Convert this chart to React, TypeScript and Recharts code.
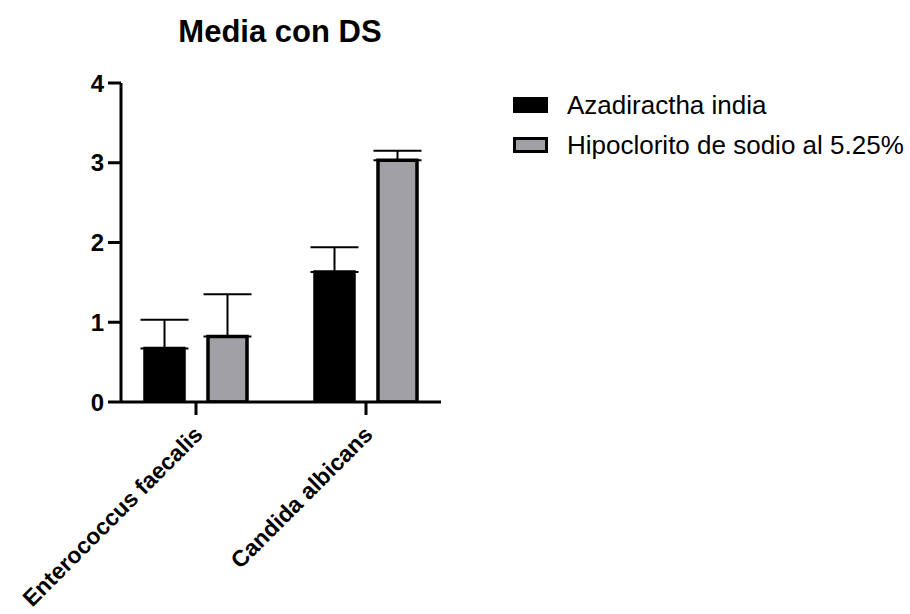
import React from 'react';
import { BarChart, Bar, XAxis, YAxis, ErrorBar, Legend } from 'recharts';

const categories = ['Enterococcus faecalis', 'Candida albicans'];
const seriesNames = ['Azadiractha india', 'Hipoclorito de sodio al 5.25%'];
const azadirachtaMean = [0.67, 1.63];
const azadirachtaSD = [0.36, 0.31];
const hipocloritoMean = [0.82, 3.03];
const hipocloritoSD = [0.53, 0.12];
const yTicks = [0, 1, 2, 3, 4];
const title = 'Media con DS';

const FONT = '"Liberation Sans", Arial, Helvetica, sans-serif';
const COLORS = ['#000000', '#a1a1a5'];

const data = categories.map((c, i) => ({
  name: c,
  a: azadirachtaMean[i],
  aErr: [0, azadirachtaSD[i]],
  h: hipocloritoMean[i],
  hErr: [0, hipocloritoSD[i]],
}));

const XTick = (props: any) => {
  const { x, y, payload } = props;
  return (
    <g transform={`translate(${x + 8},${y + 19})`}>
      <text
        x={0}
        y={0}
        transform="rotate(-45)"
        textAnchor="end"
        fill="#000"
        fontSize={23}
        fontWeight={700}
        fontFamily={FONT}
      >
        {payload.value}
      </text>
    </g>
  );
};

const YTick = (props: any) => {
  const { x, y, payload } = props;
  return (
    <text
      x={x}
      y={y}
      dy="0.36em"
      textAnchor="end"
      fill="#000"
      fontSize={24}
      fontWeight={700}
      fontFamily={FONT}
    >
      {payload.value}
    </text>
  );
};

const renderLegend = () => (
  <div style={{ fontFamily: FONT }}>
    {seriesNames.map((n, i) => (
      <div key={n} style={{ display: 'flex', alignItems: 'center', height: 40 }}>
        <div
          style={{
            width: 35,
            height: 16,
            boxSizing: 'border-box',
            background: COLORS[i],
            border: '3.5px solid #000',
            marginRight: 19,
          }}
        />
        <span style={{ fontSize: 26, color: '#000', whiteSpace: 'nowrap' }}>{n}</span>
      </div>
    ))}
  </div>
);

export default function App() {
  return (
    <div style={{ position: 'absolute', left: 0, top: 0, width: 910, height: 614, background: '#fff' }}>
      <div
        style={{
          position: 'absolute',
          left: 0,
          top: 17,
          width: 560,
          textAlign: 'center',
          fontFamily: FONT,
          fontWeight: 700,
          fontSize: 31,
          lineHeight: '30px',
          color: '#000',
        }}
      >
        {title}
      </div>
      <BarChart
        width={910}
        height={614}
        data={data}
        margin={{ top: 83, right: 469, bottom: 0, left: 0 }}
        barSize={39}
        barGap={24}
      >
        <XAxis
          dataKey="name"
          height={212}
          padding={{ left: -10, right: -10 }}
          axisLine={{ stroke: '#000', strokeWidth: 3 }}
          tickLine={{ stroke: '#000', strokeWidth: 3 }}
          tickSize={13}
          tick={<XTick />}
          interval={0}
        />
        <YAxis
          width={121}
          domain={[0, 4]}
          ticks={yTicks}
          allowDataOverflow
          axisLine={{ stroke: '#000', strokeWidth: 3 }}
          tickLine={{ stroke: '#000', strokeWidth: 3 }}
          tickSize={13}
          tickMargin={4}
          tick={<YTick />}
        />
        <Legend
          content={renderLegend}
          layout="vertical"
          verticalAlign="middle"
          align="center"
          wrapperStyle={{ position: 'absolute', left: 513, top: 85, width: 400 }}
        />
        <Bar dataKey="a" name={seriesNames[0]} fill={COLORS[0]} stroke="#000" strokeWidth={3.5} isAnimationActive={false}>
          <ErrorBar dataKey="aErr" direction="y" width={24} stroke="#000" strokeWidth={2} isAnimationActive={false} />
        </Bar>
        <Bar dataKey="h" name={seriesNames[1]} fill={COLORS[1]} stroke="#000" strokeWidth={3.5} isAnimationActive={false}>
          <ErrorBar dataKey="hErr" direction="y" width={24} stroke="#000" strokeWidth={2} isAnimationActive={false} />
        </Bar>
      </BarChart>
    </div>
  );
}
